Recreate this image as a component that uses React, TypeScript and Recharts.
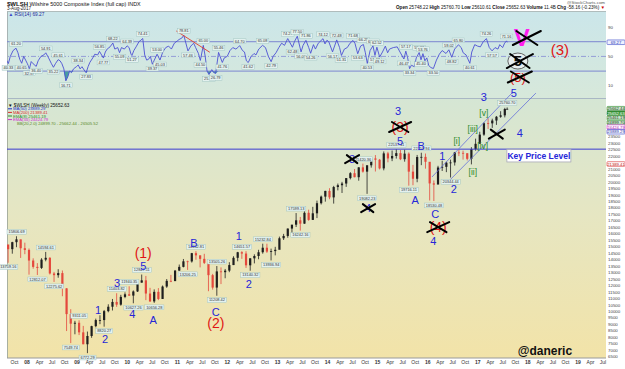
import React from "react";
import {
  ComposedChart,
  Line,
  Bar,
  Area,
  XAxis,
  YAxis,
  ReferenceLine,
  ReferenceDot,
} from "recharts";

const FONT = "'Liberation Sans', Arial, Helvetica, sans-serif";

// ---------- price: $WLSH, one bar per month ----------
const firstMonth = [2007, 8];
const lastDay = "2017-08-03";
const firstOpen = 15170;

const highs = [
  15040, 15380, 15806.69, 15530, 15310,
  14860, 14100, 13730, 14110, 14594.61, 14190, 13050, 13260, 13160, 11790, 10170, 9270,
  9311.05, 8880, 8440, 8890, 9440, 9700, 10110, 10550, 10960, 11403.82, 11280, 11470,
  11940.35, 11620, 12340, 12847.11, 12740, 11820, 11700, 11800, 12000, 12500, 12820, 13200,
  13620, 14050, 13920, 14520, 14652.81, 14330, 14450, 13850, 12900, 13505.26, 13400, 13280,
  13800, 14260, 14600, 14651.57, 14650, 14110, 14410, 14760, 15232.84, 15230, 14850, 14990,
  15780, 15990, 16410, 16690, 17599.13, 17300, 17740, 17860, 18080, 18560, 18950, 19320,
  19520, 19700, 19880, 20010, 20300, 20760, 21000, 21150, 21420.36, 21290, 21890, 22080,
  21780, 22360, 22330, 22430, 22537.41, 22470, 22500, 22290, 21320, 22090, 22259.94, 22200,
  20890, 20120, 21250, 21640, 21560, 21730, 22320, 22490, 22420, 22230, 22690, 23350,
  23880, 24610, 24920, 24890, 25100, 25470, 25730, 25760.7,
];
const lows = [
  13759.16, 14460, 14960, 14130, 14420,
  12840, 13300, 12812.07, 13280, 13870, 12850, 12275.62, 12600, 11170, 8480, 7549.74, 8230,
  8170, 7460, 6772.29, 7960, 8770, 9010, 8820.27, 9930, 10070, 10350, 10440, 11020,
  11190, 10627.26, 11500, 12230, 10870, 10740, 10656.28, 10870, 10960, 11820, 12260, 12340,
  13140, 13400, 13206.25, 13770, 13990, 13400, 13660, 11560, 11680, 11208.42, 12110, 12560,
  13030, 13580, 13870, 14060, 13360, 13140.32, 13710, 14030, 14460, 14520, 13936.94, 14330,
  14900, 15520, 15690, 16050, 16520, 16242.16, 16770, 17000, 17070, 17210, 18260, 18480,
  18670, 18330, 19350, 19150, 19620, 20200, 20360, 20100, 20720, 19082.23, 21110, 20810,
  20970, 20900, 21520, 21610, 21810, 21690, 21570, 19716.11, 19750, 19980, 21300, 21030,
  18570, 18530.48, 19850, 20850, 20760, 20344.44, 21270, 22000, 21730, 21670, 21360, 22420,
  23180, 23570, 24100, 24180, 24410, 24960, 24990, 25610.61,
];
const closes = [
  14810, 15350, 15570, 14880, 14750,
  13930, 13440, 13360, 14000, 14140, 12930, 12800, 12960, 11780, 9790, 9050, 9120,
  8380, 7460, 8100, 8860, 9330, 9330, 10020, 10360, 10730, 10520, 11120, 11320,
  11220, 11540, 12220, 12400, 11380, 10770, 11510, 10960, 11920, 12360, 12340, 13150,
  13440, 13870, 13860, 14500, 14330, 14060, 13750, 12800, 11840, 13090, 13030, 13150,
  13580, 14140, 14570, 14470, 13560, 14100, 14280, 14570, 14920, 14620, 14660, 14760,
  15650, 15830, 16400, 16700, 17040, 16780, 17620, 17070, 17580, 18360, 18870, 19310,
  18810, 19610, 19750, 19880, 20300, 20680, 20370, 21130, 20800, 21290, 21820, 21720,
  21050, 22210, 21820, 22010, 22230, 21760, 22190, 20800, 20250, 21930, 21940, 21560,
  19890, 19800, 21120, 21170, 21490, 21510, 22280, 22250, 22220, 21790, 22540, 22950,
  23660, 24540, 24530, 24750, 25040, 25150, 25640, 25652.63,
];

// swing highs / lows that carry a value label
const priceNotes: [string, "H" | "L"][] = [
  ["2007-08", "L"], ["2007-10", "H"], ["2008-03", "L"], ["2008-05", "H"], ["2008-07", "L"],
  ["2008-11", "L"], ["2009-01", "H"], ["2009-03", "L"], ["2009-07", "L"], ["2009-10", "H"],
  ["2010-01", "H"], ["2010-02", "L"], ["2010-04", "H"], ["2010-07", "L"], ["2011-03", "L"],
  ["2011-05", "H"], ["2011-10", "L"], ["2011-10", "H"], ["2012-04", "H"], ["2012-06", "L"],
  ["2012-09", "H"], ["2012-11", "L"], ["2013-05", "H"], ["2013-06", "L"], ["2014-09", "H"],
  ["2014-10", "L"], ["2015-05", "H"], ["2015-08", "L"], ["2015-11", "H"], ["2016-02", "L"],
  ["2016-06", "L"], ["2017-08", "H"],
];

const keyLevel = 22537.41;

// overlay values from the legend
const overlayValues = {
  close: 25652.63,
  ma50: 23889.29,
  ma200: 21389.41,
  ema8: 25461.19,
  ema34: 24424.79,
  bbLow: 24899.7,
  bbMid: 25662.44,
  bbHigh: 26505.52,
};

// ---------- RSI(14) ----------
const rsiPoints: [string, number][] = [
  ["2007-08-03", 45], ["2007-08-17", 40.33], ["2007-08-31", 50], ["2007-09-21", 58], ["2007-10-12", 61.2],
  ["2007-10-26", 55], ["2007-11-09", 46], ["2007-11-23", 40.65], ["2007-12-07", 50], ["2007-12-21", 45],
  ["2008-01-04", 40], ["2008-01-18", 32.97], ["2008-02-01", 43], ["2008-02-15", 40], ["2008-03-07", 36.4],
  ["2008-03-21", 44], ["2008-04-11", 50], ["2008-05-02", 52], ["2008-05-16", 54.91], ["2008-06-06", 48],
  ["2008-06-27", 40], ["2008-07-11", 35.22], ["2008-07-25", 40], ["2008-08-15", 45.61], ["2008-08-29", 44],
  ["2008-09-12", 40], ["2008-09-26", 33], ["2008-10-10", 16.71], ["2008-10-24", 22], ["2008-11-07", 30],
  ["2008-11-21", 28], ["2008-12-05", 33], ["2008-12-26", 36],
  ["2009-01-09", 38.34], ["2009-01-23", 33], ["2009-02-06", 36], ["2009-02-27", 30], ["2009-03-06", 27.83],
  ["2009-03-20", 36], ["2009-04-03", 42], ["2009-04-24", 48], ["2009-05-08", 53], ["2009-05-29", 52],
  ["2009-06-12", 56.85], ["2009-07-10", 47.77], ["2009-07-24", 56], ["2009-08-07", 60], ["2009-08-28", 63],
  ["2009-09-18", 68.22], ["2009-10-02", 60], ["2009-10-23", 62], ["2009-11-06", 55.09], ["2009-11-20", 62],
  ["2009-12-11", 60], ["2009-12-31", 64.39],
  ["2010-01-15", 62], ["2010-01-29", 53], ["2010-02-05", 51.27], ["2010-02-19", 58], ["2010-03-05", 63],
  ["2010-03-26", 70], ["2010-04-09", 72], ["2010-04-23", 74.41], ["2010-05-07", 52], ["2010-05-21", 45],
  ["2010-06-04", 46], ["2010-06-18", 50], ["2010-07-02", 39.37], ["2010-07-16", 45], ["2010-08-06", 53],
  ["2010-08-27", 45.03], ["2010-09-17", 56], ["2010-10-08", 62], ["2010-10-29", 64], ["2010-11-19", 60],
  ["2010-12-10", 68], ["2010-12-31", 71],
  ["2011-01-14", 73], ["2011-02-04", 75], ["2011-02-18", 78.81], ["2011-03-18", 57.46], ["2011-04-08", 64],
  ["2011-04-29", 68], ["2011-05-13", 62], ["2011-06-03", 54], ["2011-06-17", 44.5], ["2011-07-08", 65],
  ["2011-07-22", 50], ["2011-08-05", 30], ["2011-08-19", 25.36], ["2011-09-09", 32], ["2011-09-23", 28],
  ["2011-10-07", 26.79], ["2011-10-28", 55.46], ["2011-11-25", 41.76], ["2011-12-09", 48], ["2011-12-30", 50],
  ["2012-01-20", 58], ["2012-02-10", 62], ["2012-03-02", 60], ["2012-03-16", 62], ["2012-03-30", 64.7],
  ["2012-04-20", 58], ["2012-05-04", 56], ["2012-05-18", 44], ["2012-06-01", 41.62], ["2012-06-22", 50],
  ["2012-07-13", 54], ["2012-07-27", 52], ["2012-08-17", 60], ["2012-09-14", 65.08], ["2012-10-05", 62],
  ["2012-10-26", 50], ["2012-11-16", 42.79], ["2012-11-30", 50], ["2012-12-21", 55],
  ["2013-01-11", 62], ["2013-02-01", 68], ["2013-02-22", 65], ["2013-03-15", 74.27], ["2013-04-19", 62.48],
  ["2013-05-03", 70], ["2013-05-24", 77.5], ["2013-06-21", 56.09], ["2013-07-05", 65], ["2013-07-26", 71.86],
  ["2013-08-16", 62], ["2013-08-30", 54.26], ["2013-09-20", 66], ["2013-10-04", 60], ["2013-10-25", 68],
  ["2013-11-29", 74.12], ["2013-12-13", 67], ["2013-12-27", 72],
  ["2014-01-10", 70], ["2014-02-07", 56.17], ["2014-03-07", 72.48], ["2014-03-28", 62], ["2014-04-11", 51.31],
  ["2014-05-02", 60], ["2014-05-23", 62], ["2014-06-13", 68], ["2014-07-04", 71.68], ["2014-07-18", 68],
  ["2014-08-08", 53.63], ["2014-08-29", 64], ["2014-09-19", 66.25], ["2014-10-03", 55], ["2014-10-17", 40.53],
  ["2014-11-07", 58], ["2014-11-28", 64.47], ["2014-12-12", 51.42], ["2014-12-26", 62.52],
  ["2015-01-16", 49.12], ["2015-02-06", 56], ["2015-02-27", 64], ["2015-03-13", 55], ["2015-03-27", 60],
  ["2015-04-24", 62], ["2015-05-22", 63], ["2015-06-12", 56], ["2015-07-10", 46.47], ["2015-07-24", 57.17],
  ["2015-08-07", 48], ["2015-08-21", 33.34], ["2015-09-04", 38], ["2015-09-25", 36], ["2015-10-09", 48],
  ["2015-10-30", 55.27], ["2015-11-13", 45.4], ["2015-11-27", 53.76], ["2015-12-11", 44], ["2015-12-25", 48],
  ["2016-01-08", 38], ["2016-01-22", 35], ["2016-02-12", 33.5], ["2016-03-04", 45], ["2016-03-25", 53],
  ["2016-04-15", 58], ["2016-04-29", 56], ["2016-05-13", 54], ["2016-06-03", 59.02], ["2016-06-24", 48.82],
  ["2016-07-15", 60], ["2016-08-12", 65.8], ["2016-09-02", 62], ["2016-09-16", 55], ["2016-10-07", 52],
  ["2016-11-04", 40.61], ["2016-11-18", 56], ["2016-12-09", 66], ["2016-12-30", 64],
  ["2017-01-20", 63], ["2017-02-10", 70], ["2017-03-03", 74.26], ["2017-03-24", 62], ["2017-04-14", 57.57],
  ["2017-05-05", 62], ["2017-05-26", 60], ["2017-06-09", 66], ["2017-06-30", 62], ["2017-07-14", 68],
  ["2017-07-28", 71.16], ["2017-08-03", 69.27],
];

const rsiNotes: [string, "H" | "L"][] = [
  ["2007-08-17", "L"], ["2007-10-12", "H"], ["2007-11-23", "L"], ["2008-01-18", "L"], ["2008-03-07", "L"],
  ["2008-05-16", "H"], ["2008-07-11", "L"], ["2008-08-15", "H"], ["2008-10-10", "L"], ["2009-01-09", "H"],
  ["2009-03-06", "L"], ["2009-06-12", "H"], ["2009-07-10", "L"], ["2009-09-18", "H"], ["2009-11-06", "L"],
  ["2009-12-31", "H"], ["2010-02-05", "L"], ["2010-04-23", "H"], ["2010-07-02", "L"], ["2010-08-06", "H"],
  ["2010-08-27", "L"], ["2011-02-18", "H"], ["2011-03-18", "L"], ["2011-06-17", "L"], ["2011-07-08", "H"],
  ["2011-08-19", "L"], ["2011-10-07", "L"], ["2011-10-28", "H"], ["2011-11-25", "L"], ["2012-03-30", "H"],
  ["2012-06-01", "L"], ["2012-09-14", "H"], ["2012-11-16", "L"], ["2013-03-15", "H"], ["2013-04-19", "L"],
  ["2013-05-24", "H"], ["2013-06-21", "L"], ["2013-07-26", "H"], ["2013-08-30", "L"], ["2013-11-29", "H"],
  ["2014-02-07", "L"], ["2014-03-07", "H"], ["2014-04-11", "L"], ["2014-07-04", "H"], ["2014-08-08", "L"],
  ["2014-09-19", "H"], ["2014-10-17", "L"], ["2014-11-28", "H"], ["2014-12-12", "L"], ["2014-12-26", "H"],
  ["2015-01-16", "L"], ["2015-07-10", "L"], ["2015-07-24", "H"], ["2015-08-21", "L"], ["2015-10-30", "H"],
  ["2015-11-13", "L"], ["2015-11-27", "H"], ["2016-02-12", "L"], ["2016-06-03", "H"], ["2016-06-24", "L"],
  ["2016-08-12", "H"], ["2016-11-04", "L"], ["2017-03-03", "H"], ["2017-04-14", "L"], ["2017-07-28", "H"],
];
const rsiLast = 69.27;

// ---------- Elliott wave notes: [year, price, text] ----------
const blueWaves: [number, number, string][] = [
  [2009.42, 10090, "1"], [2009.56, 7850, "2"], [2009.8, 12190, "3"], [2010.1, 9790, "4"],
  [2010.32, 13500, "5"], [2010.52, 9330, "A"], [2011.33, 15280, "B"], [2011.77, 9950, "C"],
  [2012.23, 15830, "1"], [2012.43, 12120, "2"], [2015.41, 25480, "3"], [2015.45, 23170, "5"],
  [2015.87, 22750, "B"], [2015.75, 18610, "A"], [2016.15, 17530, "C"], [2016.11, 15440, "4"],
  [2016.29, 22010, "1"], [2016.52, 19460, "2"], [2017.12, 26570, "3"], [2017.72, 26870, "5"],
  [2017.84, 23790, "4"],
];
const redWaves: [number, number, string][] = [
  [2010.32, 14500, "(1)"], [2011.77, 9100, "(2)"],
];
const greenWaves: [number, number, string][] = [
  [2016.58, 23170, "[i]"], [2016.9, 20770, "[ii]"], [2016.9, 24090, "[iii]"],
  [2017.1, 22780, "[iv]"], [2017.12, 25320, "[v]"],
];
const crossedBlue: [number, number, string][] = [
  [2014.49, 21770, "3"], [2014.81, 17980, "4"],
];
const crossedRed: [number, number, string][] = [
  [2015.45, 24250, "(3)"], [2016.21, 16510, "(4)"],
];
const plainCross: [number, number][] = [[2017.38, 23700]];
const keyBox: [number, number, string] = [2018.22, 22050, "Key Price Level"];
const signature: [number, number, string] = [2018.34, 7000, "@daneric"];

const upperChannel = [
  { x: 2016.085, y: 20386 },
  { x: 2017.7, y: 26947 },
];
const lowerChannel = [
  { x: 2016.365, y: 19845 },
  { x: 2018.16, y: 26870 },
];

// RSI panel notes: [year, rsi, text]
const rsiCrossedV: [number, number, string] = [2017.88, 76.4, "V"];
const rsiRed3: [number, number, string] = [2018.64, 58.7, "(3)"];
const rsiCircled5: [number, number, string] = [2017.8, 43.7, "5"];
const rsiCrossed5: [number, number, string] = [2017.8, 22, "(5)"];
const rsiTrend = [
  { x: 2010.98, y: 84.6 },
  { x: 2011.65, y: 55.6 },
];

// ---------- axes ----------
const X0 = 2007.6;
const X1 = 2019.56;
const P0 = 6398;
const P1 = 27263;
const R0 = -6.6;
const R1 = 111.8;

const tickYears = ["08", "09", "10", "11", "12", "13", "14", "15", "16", "17", "18", "19"];
const tickMonths = ["Apr", "Jul", "Oct"];

// ---------- derived rows ----------
const toYear = (d: string) => {
  const [y, m, day] = d.split("-").map(Number);
  return y + (m - 1) / 12 + ((day || 15) - 1) / 365;
};

const priceRows = highs.map((high, i) => {
  const mi = firstMonth[1] - 1 + i;
  const year = firstMonth[0] + Math.floor(mi / 12);
  const month = (mi % 12) + 1;
  const t = i === highs.length - 1 ? toYear(lastDay) : year + (month - 0.5) / 12;
  return {
    t,
    key: `${year}-${String(month).padStart(2, "0")}`,
    high,
    low: lows[i],
    close: closes[i],
    open: i ? closes[i - 1] : firstOpen,
    range: [lows[i], high],
  };
});

const rsiRows = rsiPoints.map(([d, v]) => ({
  t: toYear(d),
  d,
  v,
  under: [Math.min(v, 30), 30],
}));

const xTicks: { t: number; label: string; bold: boolean }[] = [{ t: 2007.75, label: "Oct", bold: false }];
tickYears.forEach((yy, i) => {
  const y = 2008 + i;
  xTicks.push({ t: y, label: yy, bold: true });
  tickMonths.forEach((m, j) => xTicks.push({ t: y + 0.25 * (j + 1), label: m, bold: false }));
});
const xTicksShown = xTicks.filter((k) => k.t <= X1);

const priceTicks: number[] = [];
for (let v = 6500; v <= 23500; v += 500) if (v !== 21500) priceTicks.push(v);

// ---------- small drawing helpers ----------
const BLUE = "#2626d8";
const RED = "#e01414";
const GREEN = "#2a8c2a";

const Txt = ({ x, y, text, color, size, weight = "normal" }: any) => (
  <text x={x} y={y} dy="0.36em" textAnchor="middle" fill={color} fontSize={size} fontWeight={weight} fontFamily={FONT}>
    {text}
  </text>
);

const Cross = ({ x, y, w, h }: any) => (
  <g stroke="#000" strokeWidth={2} strokeLinecap="round">
    <line x1={x - w} y1={y + h} x2={x + w} y2={y - h} />
    <line x1={x - w * 0.75} y1={y - h} x2={x + w * 0.75} y2={y + h} />
  </g>
);

const NoteBox = ({ x, y, text, below }: any) => {
  const w = text.length * 2.2 + 1.6;
  const top = below ? y + 2 : y - 6.8;
  return (
    <g>
      <rect x={x - w / 2} y={top} width={w} height={4.8} fill="#e3f1ef" stroke="#9abfbc" strokeWidth={0.4} />
      <text x={x} y={top + 3.7} fontSize={3.9} textAnchor="middle" fill="#333" fontFamily={FONT}>
        {text}
      </text>
    </g>
  );
};

const Candle = (props: any) => {
  const { x, y, width, height, payload } = props;
  if (!payload || x == null) return null;
  const top = Math.min(y, y + height);
  const h = Math.abs(height);
  const span = payload.high - payload.low || 1;
  const at = (v: number) => top + ((payload.high - v) / span) * h;
  const c = payload.close >= payload.open ? "#1e1e1e" : "#e4483c";
  const cx = x + width / 2;
  const o = at(payload.open);
  const cl = at(payload.close);
  return (
    <g>
      <line x1={cx} x2={cx} y1={top} y2={top + h} stroke={c} strokeWidth={0.8} />
      <rect x={cx - 1.1} y={Math.min(o, cl)} width={2.2} height={Math.max(Math.abs(o - cl), 0.8)} fill={c} />
    </g>
  );
};

const XTick = (props: any) => {
  const { x, y, payload } = props;
  const k = xTicksShown.find((q) => Math.abs(q.t - payload.value) < 1e-6);
  if (!k) return null;
  return (
    <text x={x} y={y + 4.5} fontSize={5} textAnchor="middle" fill="#333" fontWeight={k.bold ? "bold" : "normal"} fontFamily={FONT}>
      {k.label}
    </text>
  );
};

const SideTick = (props: any) => {
  const { x, y, payload } = props;
  return (
    <text x={x} y={y + 1.6} fontSize={4.4} fill="#444" fontFamily={FONT}>
      {payload.value}
    </text>
  );
};

// right-hand value boxes, stacked so they do not overlap
const boxStyle: Record<string, { fill: string; stroke: string; text: string }> = {
  bbMid: { fill: "#cfe8cf", stroke: GREEN, text: "#134013" },
  close: { fill: "#3d9a3d", stroke: "#1d6a1d", text: "#ffffff" },
  ema8: { fill: "#cfe8cf", stroke: GREEN, text: "#134013" },
  bbLow: { fill: "#cfe8cf", stroke: GREEN, text: "#134013" },
  ema34: { fill: "#ffffff", stroke: "#d02cd0", text: "#b010b0" },
  ma50: { fill: "#ffffff", stroke: "#2e3cc8", text: "#1e2ca8" },
  ma200: { fill: "#ffffff", stroke: "#d83030", text: "#c01818" },
};
const boxKeys = ["bbMid", "close", "ema8", "bbLow", "ema34", "ma50", "ma200"] as const;
const pxPerPrice = 270 / (P1 - P0);
const boxOffsets: Record<string, number> = {};
{
  let prev = -Infinity;
  boxKeys.forEach((k) => {
    const raw = (P1 - (overlayValues as any)[k]) * pxPerPrice;
    const placed = Math.max(raw, prev + 4.6);
    boxOffsets[k] = placed - raw;
    prev = placed;
  });
}

const SideBox = ({ x, y, text, st }: any) => (
  <g>
    <rect x={x + 1} y={y - 2.3} width={18} height={4.6} fill={st.fill} stroke={st.stroke} strokeWidth={0.6} rx={0.8} />
    <text x={x + 10} y={y + 1.5} fontSize={4.2} textAnchor="middle" fill={st.text} fontFamily={FONT}>
      {text}
    </text>
  </g>
);

// ---------- charts ----------
const RsiPanel = () => (
  <ComposedChart width={625} height={99} data={rsiRows} margin={{ top: 11, right: 0, bottom: 1, left: 7 }}>
    <XAxis dataKey="t" type="number" domain={[X0, X1]} allowDataOverflow hide />
    <YAxis
      type="number"
      orientation="right"
      domain={[R0, R1]}
      allowDataOverflow
      width={19}
      ticks={[10, 30, 50, 90]}
      tick={<SideTick />}
      tickSize={0}
      tickMargin={2}
      axisLine={false}
      tickLine={false}
    />
    <ReferenceLine y={70} stroke="#7d86d0" strokeWidth={1} />
    <ReferenceLine y={30} stroke="#7d86d0" strokeWidth={1} />
    <ReferenceLine y={50} stroke="#8d95d6" strokeWidth={0.9} strokeDasharray="5 2 1 2" />
    <Area dataKey="under" type="linear" stroke="none" fill="#2f8f95" fillOpacity={0.85} isAnimationActive={false} />
    <Line dataKey="v" type="linear" stroke="#4c4fd4" strokeWidth={0.9} dot={false} isAnimationActive={false} />
    <ReferenceLine segment={rsiTrend} stroke="#e23b2b" strokeWidth={0.9} ifOverflow="visible" />
    {rsiNotes.map(([d, kind], i) => {
      const r = rsiRows.find((q) => q.d === d);
      if (!r) return null;
      return (
        <ReferenceDot
          key={"rn" + i}
          x={r.t}
          y={r.v}
          r={1}
          ifOverflow="visible"
          shape={(p: any) => <NoteBox x={p.cx} y={p.cy} text={r.v.toFixed(2)} below={kind === "L"} />}
        />
      );
    })}
    <ReferenceDot
      x={X1}
      y={rsiLast}
      r={1}
      ifOverflow="visible"
      shape={(p: any) => (
        <SideBox x={p.cx} y={p.cy} text={rsiLast.toFixed(2)} st={{ fill: "#eef1ff", stroke: "#3a48c8", text: "#2a38b0" }} />
      )}
    />
    <ReferenceDot
      x={rsiCrossedV[0]}
      y={rsiCrossedV[1]}
      r={1}
      ifOverflow="visible"
      shape={(p: any) => (
        <g>
          <Txt x={p.cx} y={p.cy} text={rsiCrossedV[2]} color="#ff1cf0" size={24} weight="bold" />
          <Cross x={p.cx + 5} y={p.cy + 1} w={14} h={7} />
        </g>
      )}
    />
    <ReferenceDot
      x={rsiRed3[0]}
      y={rsiRed3[1]}
      r={1}
      ifOverflow="visible"
      shape={(p: any) => <Txt x={p.cx} y={p.cy} text={rsiRed3[2]} color={RED} size={15} />}
    />
    <ReferenceDot
      x={rsiCircled5[0]}
      y={rsiCircled5[1]}
      r={1}
      ifOverflow="visible"
      shape={(p: any) => (
        <g>
          <ellipse cx={p.cx} cy={p.cy} rx={10} ry={8} fill="#e8eeee" stroke="#444" strokeWidth={0.8} />
          <Txt x={p.cx} y={p.cy} text={rsiCircled5[2]} color="#111" size={15} weight="bold" />
          <Cross x={p.cx + 2} y={p.cy} w={13} h={7} />
        </g>
      )}
    />
    <ReferenceDot
      x={rsiCrossed5[0]}
      y={rsiCrossed5[1]}
      r={1}
      ifOverflow="visible"
      shape={(p: any) => (
        <g>
          <Txt x={p.cx} y={p.cy} text={rsiCrossed5[2]} color={RED} size={13} />
          <Cross x={p.cx + 2} y={p.cy} w={12} h={5.5} />
        </g>
      )}
    />
  </ComposedChart>
);

const dot = (key: string, t: number, p: number, render: (cx: number, cy: number) => React.ReactNode) => (
  <ReferenceDot key={key} x={t} y={p} r={1} ifOverflow="visible" shape={(q: any) => <g>{render(q.cx, q.cy)}</g>} />
);

const PricePanel = () => (
  <ComposedChart width={625} height={281} data={priceRows} margin={{ top: 0, right: 0, bottom: 0, left: 7 }}>
    <XAxis
      dataKey="t"
      type="number"
      domain={[X0, X1]}
      allowDataOverflow
      ticks={xTicksShown.map((k) => k.t)}
      tick={<XTick />}
      interval={0}
      height={11}
      tickSize={0}
      tickMargin={1}
      axisLine={{ stroke: "#9a9a9a" }}
      tickLine={false}
    />
    <YAxis
      type="number"
      orientation="right"
      domain={[P0, P1]}
      allowDataOverflow
      width={19}
      ticks={priceTicks}
      interval={0}
      tick={<SideTick />}
      tickSize={0}
      tickMargin={2}
      axisLine={false}
      tickLine={false}
    />
    <ReferenceLine y={keyLevel} stroke="#3a3ad0" strokeWidth={1} />
    <Bar dataKey="range" barSize={3} shape={<Candle />} isAnimationActive={false} />
    <ReferenceLine segment={upperChannel} stroke="#6470da" strokeWidth={0.8} ifOverflow="visible" />
    <ReferenceLine segment={lowerChannel} stroke="#6470da" strokeWidth={0.8} ifOverflow="visible" />

    {priceNotes.map(([m, kind], i) => {
      const r = priceRows.find((q) => q.key === m);
      if (!r) return null;
      const v = kind === "H" ? r.high : r.low;
      return dot("pn" + i, r.t, v, (cx, cy) => <NoteBox x={cx} y={cy} text={v.toFixed(2)} below={kind === "L"} />);
    })}

    {blueWaves.map(([t, p, s], i) => dot("bw" + i, t, p, (cx, cy) => <Txt x={cx} y={cy} text={s} color={BLUE} size={11} />))}
    {redWaves.map(([t, p, s], i) => dot("rw" + i, t, p, (cx, cy) => <Txt x={cx} y={cy} text={s} color={RED} size={14} />))}
    {greenWaves.map(([t, p, s], i) => dot("gw" + i, t, p, (cx, cy) => <Txt x={cx} y={cy} text={s} color={GREEN} size={8.5} />))}
    {crossedBlue.map(([t, p, s], i) =>
      dot("cb" + i, t, p, (cx, cy) => (
        <g>
          <Txt x={cx} y={cy} text={s} color={BLUE} size={11} />
          <Cross x={cx} y={cy} w={7} h={4} />
        </g>
      ))
    )}
    {crossedRed.map(([t, p, s], i) =>
      dot("cr" + i, t, p, (cx, cy) => (
        <g>
          <Txt x={cx} y={cy} text={s} color={RED} size={14} />
          <Cross x={cx} y={cy} w={11} h={5} />
        </g>
      ))
    )}
    {plainCross.map(([t, p], i) => dot("pc" + i, t, p, (cx, cy) => <Cross x={cx} y={cy} w={8} h={4.5} />))}

    {dot("key", keyBox[0], keyBox[1], (cx, cy) => (
      <g>
        <rect x={cx - 32} y={cy - 6} width={64} height={12.5} fill="#ffffff" stroke="#a9a9b8" strokeWidth={0.8} />
        <Txt x={cx} y={cy} text={keyBox[2]} color={BLUE} size={8.5} weight="bold" />
      </g>
    ))}
    {dot("sig", signature[0], signature[1], (cx, cy) => (
      <Txt x={cx} y={cy} text={signature[2]} color="#111" size={12} weight="bold" />
    ))}

    {boxKeys.map((k) =>
      dot("bx" + k, X1, (overlayValues as any)[k], (cx, cy) => (
        <SideBox x={cx} y={cy + boxOffsets[k]} text={(overlayValues as any)[k].toFixed(2)} st={boxStyle[k]} />
      ))
    )}
  </ComposedChart>
);

const legendRows = [
  { text: `MA(50) ${overlayValues.ma50.toFixed(2)}`, color: "#2430c8" },
  { text: `MA(200) ${overlayValues.ma200.toFixed(2)}`, color: "#d82c2c" },
  { text: `EMA(8) ${overlayValues.ema8.toFixed(2)}`, color: "#2a8c2a" },
  { text: `EMA(34) ${overlayValues.ema34.toFixed(2)}`, color: "#d02cd0" },
];

export default function App() {
  return (
    <div
      style={{
        position: "absolute",
        left: 0,
        top: 0,
        width: 625,
        height: 369,
        background: "#ffffff",
        overflow: "hidden",
      }}
    >
      <div
        style={{
          position: "absolute",
          left: 7,
          top: 11,
          width: 599,
          height: 87,
          background: "linear-gradient(#cbe6ea, #d7e8da)",
          borderLeft: "1px solid #a8b4b4",
          borderTop: "1px solid #b0bcbc",
          boxSizing: "border-box",
        }}
      />
      <div
        style={{
          position: "absolute",
          left: 7,
          top: 98,
          width: 599,
          height: 260,
          background: "linear-gradient(#d5e6d4, #e6e6c2 45%, #f2e3a8)",
          borderLeft: "1px solid #a8b0a0",
          borderTop: "1px solid #a9b7c4",
          boxSizing: "border-box",
        }}
      />
      <div style={{ position: "absolute", left: 0, top: 0 }}>
        <RsiPanel />
      </div>
      <div style={{ position: "absolute", left: 0, top: 88 }}>
        <PricePanel />
      </div>
      <svg
        width={625}
        height={369}
        style={{ position: "absolute", left: 0, top: 0, pointerEvents: "none" }}
        fontFamily={FONT}
      >
        <text x={7} y={5.5} fontSize={5.4} fill="#111">
          <tspan fontWeight="bold" fontSize={6}>$WLSH</tspan>
          <tspan> Wilshire 5000 Composite Index (full cap) INDX</tspan>
        </text>
        <text x={7} y={10.3} fontSize={4.6} fill="#222">3-Aug-2017</text>
        <text x={605} y={4.2} fontSize={4.4} fill="#555" textAnchor="end">@StockCharts.com</text>
        <text x={605} y={9.4} fontSize={4.6} fill="#111" textAnchor="end">
          <tspan fontWeight="bold">Open</tspan> 25748.22 <tspan fontWeight="bold">High</tspan> 25760.70{" "}
          <tspan fontWeight="bold">Low</tspan> 25610.61 <tspan fontWeight="bold">Close</tspan> 25652.63{" "}
          <tspan fontWeight="bold">Volume</tspan> 11.4B <tspan fontWeight="bold">Chg</tspan> -58.16 (-0.23%)
          <tspan fill="#cc0000"> ▼</tspan>
        </text>
        <text x={8.5} y={16} fontSize={4.8} fill="#1f2a9a">
          <tspan fill="#3a48c8">▲</tspan> RSI(14) 69.27
        </text>
        <text x={8} y={106.5} fontSize={4.6} fill="#111">
          <tspan fontWeight="bold">▼</tspan> $WLSH (Weekly) 25652.63
        </text>
        {legendRows.map((r, i) => (
          <g key={r.text}>
            <line x1={8} x2={12} y1={108.8 + i * 3.6} y2={108.8 + i * 3.6} stroke={r.color} strokeWidth={1} />
            <text x={13} y={110.3 + i * 3.6} fontSize={4.2} fill={r.color}>
              {r.text}
            </text>
          </g>
        ))}
        <text x={17} y={125} fontSize={4.2} fill="#5b8a2a">
          {`BB(20,2.0) ${overlayValues.bbLow.toFixed(2)} - ${overlayValues.bbMid.toFixed(2)} - ${overlayValues.bbHigh.toFixed(2)}`}
        </text>
      </svg>
    </div>
  );
}
